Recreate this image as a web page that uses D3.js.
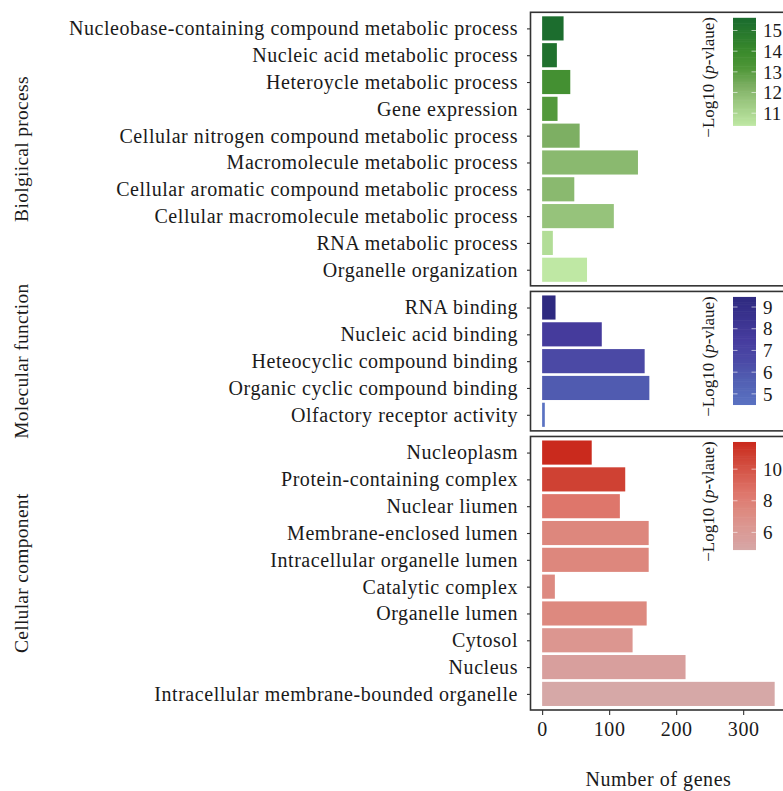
<!DOCTYPE html>
<html>
<head>
<meta charset="utf-8">
<script src="https://cdn.jsdelivr.net/npm/d3@7"></script>
<style>
  html, body { margin: 0; padding: 0; background: #fff; }
  svg { display: block; font-family: "Liberation Serif", "DejaVu Serif", serif; }
</style>
</head>
<body>
<svg id="chart" width="783" height="791"></svg>
<script>
// GO enrichment: gene counts per term, coloured by -log10(p-value)
const bpTerms = [
  "Nucleobase-containing compound metabolic process",
  "Nucleic acid metabolic process",
  "Heteroycle metabolic process",
  "Gene expression",
  "Cellular nitrogen compound metabolic process",
  "Macromolecule metabolic process",
  "Cellular aromatic compound metabolic process",
  "Cellular macromolecule metabolic process",
  "RNA metabolic process",
  "Organelle organization"
];
const bpCounts = [32, 22, 42, 23, 56, 143, 48, 107, 16, 67];
const bpLogP = [15.5, 15.3, 13.6, 13.1, 12.3, 12.0, 12.0, 11.7, 10.8, 10.4];

const mfTerms = [
  "RNA binding",
  "Nucleic acid binding",
  "Heteocyclic compound binding",
  "Organic cyclic compound binding",
  "Olfactory receptor activity"
];
const mfCounts = [20, 89, 153, 160, 4];
const mfLogP = [9.45, 7.6, 6.6, 5.8, 4.5];

const ccTerms = [
  "Nucleoplasm",
  "Protein-containing complex",
  "Nuclear liumen",
  "Membrane-enclosed lumen",
  "Intracellular organelle lumen",
  "Catalytic complex",
  "Organelle lumen",
  "Cytosol",
  "Nucleus",
  "Intracellular membrane-bounded organelle"
];
const ccCounts = [74, 124, 116, 159, 159, 19, 156, 135, 214, 347];
const ccLogP = [11.7, 10.8, 8.5, 7.5, 7.5, 7.3, 7.4, 6.5, 5.5, 4.9];

const xTicks = [0, 100, 200, 300];
const bpLegendTicks = [11, 12, 13, 14, 15];
const mfLegendTicks = [5, 6, 7, 8, 9];
const ccLegendTicks = [6, 8, 10];

// colour ramps for each ontology
const greenScale = d3.scaleLinear()
  .domain([10.4, 11.7, 12.3, 13.2, 14.0, 15.6])
  .range(["#bfe8a4", "#96c37b", "#7daf63", "#4e9637", "#3a8a2c", "#1a6b2e"])
  .interpolate(d3.interpolateRgb);
const blueScale = d3.scaleLinear()
  .domain([4.5, 5.6, 6.5, 7.5, 9.45])
  .range(["#5a72c2", "#5260b3", "#4b4aa6", "#463c9e", "#2e2a80"])
  .interpolate(d3.interpolateRgb);
const redScale = d3.scaleLinear()
  .domain([4.9, 5.5, 6.5, 7.4, 8.5, 10.8, 11.7])
  .range(["#d6a8a7", "#d89f9d", "#dc9690", "#dd897f", "#de766b", "#cf4133", "#ca2a1d"])
  .interpolate(d3.interpolateRgb);

const panels = [
  { strip: "Biolgiical process", terms: bpTerms, counts: bpCounts, logp: bpLogP,
    color: greenScale, lo: 10.4, hi: 15.6, ticks: bpLegendTicks },
  { strip: "Molecular function", terms: mfTerms, counts: mfCounts, logp: mfLogP,
    color: blueScale, lo: 4.5, hi: 9.45, ticks: mfLegendTicks },
  { strip: "Cellular component", terms: ccTerms, counts: ccCounts, logp: ccLogP,
    color: redScale, lo: 4.9, hi: 11.7, ticks: ccLegendTicks }
];

const svg = d3.select("#chart");
const panelLeft = 530.5, panelRight = 788;
const top0 = 12.3, bottom0 = 710, gap = 5.6;
const fontSize = 20;
const spacing = "0.55px";
const ink = "#1a1a1a";

// free-space facets: height proportional to number of terms (+0.6 expansion each side)
const units = panels.map(p => p.terms.length - 1 + 1.2);
const unitPx = (bottom0 - top0 - gap * (panels.length - 1)) / d3.sum(units);

const maxCount = d3.max(panels.flatMap(p => p.counts));
const x = d3.scaleLinear()
  .domain([-0.05 * maxCount, maxCount * 1.05])
  .range([panelLeft, 786.3]);

let yCursor = top0;
panels.forEach((p, i) => {
  const h = units[i] * unitPx;
  const pTop = yCursor, pBot = yCursor + h;
  yCursor = pBot + gap;

  const y = d3.scalePoint().domain(p.terms).range([pTop, pBot]).padding(0.6);
  const bw = y.step() * 0.9;

  const g = svg.append("g");

  // bars
  g.selectAll("rect.bar")
    .data(p.terms.map((t, k) => ({ t, n: p.counts[k], v: p.logp[k] })))
    .join("rect")
    .attr("class", "bar")
    .attr("x", x(0))
    .attr("y", d => y(d.t) - bw / 2)
    .attr("width", d => x(d.n) - x(0))
    .attr("height", bw)
    .attr("fill", d => p.color(d.v));

  // y axis: ticks and term labels
  const yAxis = d3.axisLeft(y).tickSize(3.5).tickPadding(9);
  const ya = g.append("g").attr("transform", `translate(${panelLeft},0)`).call(yAxis);
  ya.select(".domain").remove();
  ya.selectAll(".tick line").attr("stroke", "#333").attr("stroke-width", 1.1);
  ya.selectAll(".tick text")
    .attr("font-family", "Liberation Serif, serif")
    .attr("font-size", fontSize)
    .attr("letter-spacing", spacing)
    .attr("fill", ink);

  // panel border
  g.append("rect")
    .attr("x", panelLeft).attr("y", pTop)
    .attr("width", panelRight - panelLeft).attr("height", pBot - pTop)
    .attr("fill", "none").attr("stroke", "#333").attr("stroke-width", 1.6);

  // strip label on the left
  g.append("text")
    .attr("transform", `translate(28,${(pTop + pBot) / 2}) rotate(-90)`)
    .attr("text-anchor", "middle")
    .attr("font-size", 19.5)
    .attr("letter-spacing", "0.3px")
    .attr("fill", ink)
    .text(p.strip);

  // colour bar legend
  const cbTop = pTop + 5.8, cbLen = 107.5, cbX = 733, cbW = 23;
  const cy = d3.scaleLinear().domain([p.lo, p.hi]).range([cbTop + cbLen, cbTop]);
  const steps = 60;
  const grad = d3.range(steps).map(k => p.lo + (p.hi - p.lo) * (k + 0.5) / steps);
  const segH = cbLen / steps;
  g.selectAll("rect.cb")
    .data(grad)
    .join("rect")
    .attr("class", "cb")
    .attr("x", cbX)
    .attr("y", v => cy(v) - segH / 2 - 0.3)
    .attr("width", cbW)
    .attr("height", segH + 0.6)
    .attr("fill", v => p.color(v));

  p.ticks.forEach(t => {
    const ty = cy(t);
    g.append("line").attr("x1", cbX).attr("x2", cbX + 4.5).attr("y1", ty).attr("y2", ty)
      .attr("stroke", "#fff").attr("stroke-opacity", 0.6).attr("stroke-width", 1);
    g.append("line").attr("x1", cbX + cbW - 4.5).attr("x2", cbX + cbW).attr("y1", ty).attr("y2", ty)
      .attr("stroke", "#fff").attr("stroke-opacity", 0.6).attr("stroke-width", 1);
    g.append("text")
      .attr("x", 763).attr("y", ty).attr("dy", "0.35em")
      .attr("font-size", 19)
      .attr("fill", ink)
      .text(t);
  });

  const title = g.append("text")
    .attr("transform", `translate(714,${cbTop - 1}) rotate(-90)`)
    .attr("text-anchor", "end")
    .attr("font-size", 17)
    .attr("fill", ink);
  title.append("tspan").text("\u2212Log10 (");
  title.append("tspan").attr("font-style", "italic").text("p");
  title.append("tspan").text("-vlaue)");

  // x axis under the last panel
  if (i === panels.length - 1) {
    const xa = svg.append("g").attr("transform", `translate(0,${pBot})`)
      .call(d3.axisBottom(x).tickValues(xTicks).tickSize(5).tickPadding(7));
    xa.select(".domain").remove();
    xa.selectAll(".tick line").attr("stroke", "#333").attr("stroke-width", 1.1);
    xa.selectAll(".tick text")
      .attr("font-family", "Liberation Serif, serif")
      .attr("font-size", fontSize)
      .attr("letter-spacing", spacing)
      .attr("fill", ink);
    svg.append("text")
      .attr("x", (panelLeft + 786.3) / 2)
      .attr("y", 786)
      .attr("text-anchor", "middle")
      .attr("font-size", fontSize)
      .attr("letter-spacing", spacing)
      .attr("fill", ink)
      .text("Number of genes");
  }
});
</script>
</body>
</html>
